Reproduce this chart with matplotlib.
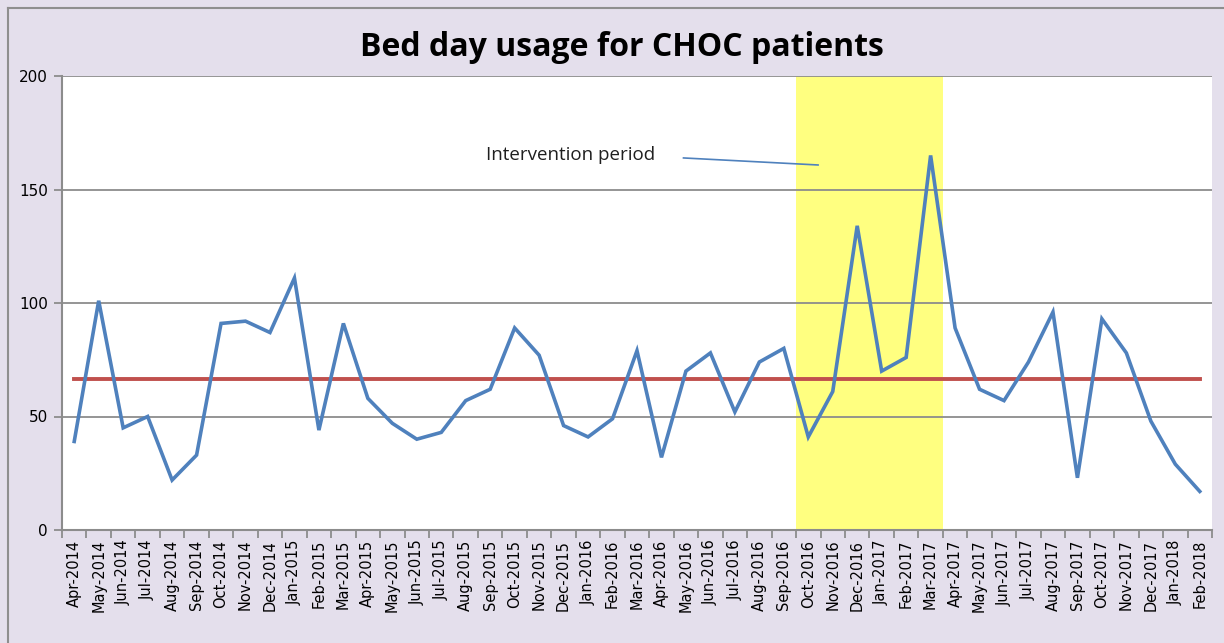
import matplotlib
matplotlib.use("Agg")
import matplotlib.pyplot as plt
from matplotlib.lines import Line2D
import numpy as np

months = ["Apr-2014", "May-2014", "Jun-2014", "Jul-2014", "Aug-2014", "Sep-2014",
          "Oct-2014", "Nov-2014", "Dec-2014", "Jan-2015", "Feb-2015", "Mar-2015",
          "Apr-2015", "May-2015", "Jun-2015", "Jul-2015", "Aug-2015", "Sep-2015",
          "Oct-2015", "Nov-2015", "Dec-2015", "Jan-2016", "Feb-2016", "Mar-2016",
          "Apr-2016", "May-2016", "Jun-2016", "Jul-2016", "Aug-2016", "Sep-2016",
          "Oct-2016", "Nov-2016", "Dec-2016", "Jan-2017", "Feb-2017", "Mar-2017",
          "Apr-2017", "May-2017", "Jun-2017", "Jul-2017", "Aug-2017", "Sep-2017",
          "Oct-2017", "Nov-2017", "Dec-2017", "Jan-2018", "Feb-2018"]
bed_days = [39, 101, 45, 50, 22, 33,
            91, 92, 87, 111, 44, 91,
            58, 47, 40, 43, 57, 62,
            89, 77, 46, 41, 49, 79,
            32, 70, 78, 52, 74, 80,
            41, 61, 134, 70, 76, 165,
            89, 62, 57, 74, 96, 23,
            93, 78, 48, 29, 17]
mean_value = 66.7
intervention_start = "Oct-2016"
intervention_end = "Mar-2017"
yticks = [0, 50, 100, 150, 200]

fig = plt.figure(figsize=(12.24, 6.43), dpi=100)
fig.patch.set_facecolor("#E4DFEC")
# outer chart border (top and left edges visible)
bx, by = 8/1224, 1 - 8/643
fig.add_artist(Line2D([bx, 1.0], [by, by], transform=fig.transFigure, color="#8E8E8E", lw=1.5))
fig.add_artist(Line2D([bx, bx], [0, by], transform=fig.transFigure, color="#8E8E8E", lw=1.5))

ax = fig.add_axes([62/1224, 1 - 530/643, (1212-62)/1224, (530-76)/643])
ax.set_facecolor("white")
x = np.arange(len(months))

i0 = months.index(intervention_start)
i1 = months.index(intervention_end)
ax.axvspan(i0 - 0.5, i1 + 0.5, color="#FFFF80", zorder=0.5, lw=0)

for yv in yticks[1:]:
    ax.axhline(yv, color="#8C8C8C", lw=1.3, zorder=1)

ax.plot(x, [mean_value] * len(x), color="#C0504D", lw=2.8, zorder=2)
ax.plot(x, bed_days, color="#4F81BD", lw=2.6, zorder=3, solid_joinstyle="miter")

ax.set_xlim(-0.5, len(months) - 0.5)
ax.set_ylim(0, 200)
ax.set_yticks(yticks)
ax.set_yticklabels([str(v) for v in yticks], fontsize=11, family="DejaVu Sans")
ax.set_xticks(x)
ax.set_xticklabels(months, rotation=90, fontsize=10.5, family="DejaVu Sans")
ax.tick_params(axis="x", length=0, pad=7)
ax.set_xticks(np.arange(len(months) + 1) - 0.5, minor=True)
ax.tick_params(axis="x", which="minor", length=6, color="#8C8C8C", width=1.3, direction="out")
ax.tick_params(axis="y", length=6, color="#8C8C8C", width=1.3, pad=4)

for s in ["top", "right"]:
    ax.spines[s].set_visible(False)
for s in ["left", "bottom"]:
    ax.spines[s].set_color("#8C8C8C")
    ax.spines[s].set_linewidth(1.5)

ax.text(20.3, 165, "Intervention period", ha="center", va="center",
        fontsize=13.5, family="Open Sans", color="#1F1F1F", zorder=4)
ax.plot([24.9, 30.4], [163.9, 160.8], color="#4F81BD", lw=1.2, zorder=4)

fig.text(622/1224, 1 - 47/643, "Bed day usage for CHOC patients", ha="center", va="center",
         fontsize=23, fontweight="bold", family="Open Sans", color="black")

fig.savefig("out.png", dpi=100, facecolor=fig.get_facecolor())
